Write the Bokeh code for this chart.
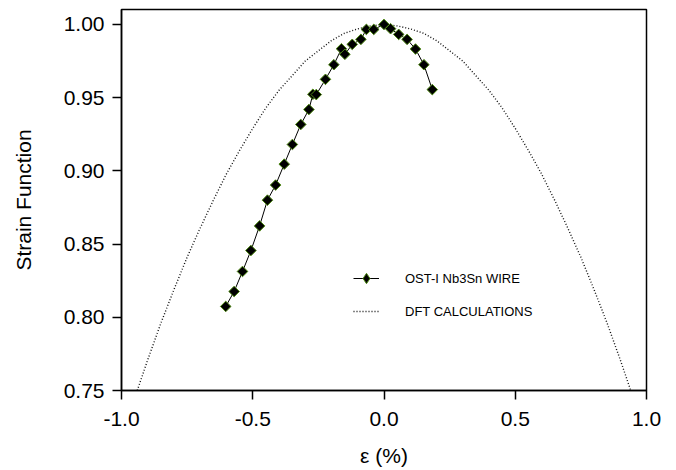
from bokeh.plotting import figure
from bokeh.models import Range1d, FixedTicker, NumeralTickFormatter, Legend, LegendItem
from bokeh.embed import file_html
from bokeh.resources import INLINE
import math

# Experimental data (OST-I Nb3Sn wire)
strain_exp = [-0.603, -0.571, -0.539, -0.507, -0.474, -0.444, -0.413, -0.380, -0.349,
              -0.317, -0.286, -0.271, -0.258, -0.223, -0.191, -0.162, -0.149, -0.121,
              -0.088, -0.067, -0.039, 0.000, 0.025, 0.056, 0.088, 0.120, 0.152, 0.184]
sf_exp = [0.8074, 0.8176, 0.8313, 0.8456, 0.8624, 0.8800, 0.8903, 0.9046, 0.9180,
          0.9317, 0.9419, 0.9523, 0.9521, 0.9625, 0.9725, 0.9834, 0.9796, 0.9864,
          0.9898, 0.9966, 0.9966, 1.0000, 0.9971, 0.9932, 0.9898, 0.9832, 0.9725, 0.9555]

# DFT calculations
strain_dft = [-0.94, -0.90, -0.85, -0.80, -0.75, -0.70, -0.65, -0.60, -0.55, -0.50,
              -0.45, -0.40, -0.35, -0.30, -0.25, -0.20, -0.15, -0.10, -0.05, 0.00,
              0.05, 0.10, 0.15, 0.20, 0.25, 0.30, 0.35, 0.40, 0.45, 0.50,
              0.55, 0.60, 0.65, 0.70, 0.75, 0.80, 0.85, 0.90, 0.94]
sf_dft = [0.750, 0.771, 0.796, 0.819, 0.841, 0.861, 0.880, 0.898, 0.914, 0.929,
          0.943, 0.955, 0.965, 0.975, 0.982, 0.989, 0.994, 0.997, 0.999, 1.000,
          0.999, 0.997, 0.994, 0.989, 0.982, 0.975, 0.965, 0.955, 0.943, 0.929,
          0.914, 0.898, 0.880, 0.861, 0.841, 0.819, 0.796, 0.771, 0.750]

x_ticks = [-1.0, -0.5, 0.0, 0.5, 1.0]
y_ticks = [0.75, 0.80, 0.85, 0.90, 0.95, 1.00]

FONT = "Liberation Sans"
EDGE = "#4f8a14"

p = figure(width=668, height=469, output_backend="svg", toolbar_location=None,
           x_range=Range1d(-1.0, 1.0), y_range=Range1d(0.75, 1.0102),
           min_border_left=121, min_border_right=22, min_border_top=9, min_border_bottom=70)

p.xgrid.visible = False
p.ygrid.visible = False
p.outline_line_color = "black"
p.outline_line_width = 1.5
p.background_fill_color = "white"
p.border_fill_color = "white"

for ax in (p.xaxis[0], p.yaxis[0]):
    ax.axis_line_color = "black"
    ax.axis_line_width = 1.5
    ax.major_tick_line_color = "black"
    ax.major_tick_line_width = 1.5
    ax.major_tick_out = 9
    ax.major_tick_in = 0
    ax.minor_tick_line_color = None
    ax.major_label_text_font = FONT
    ax.major_label_text_font_size = "21px"
    ax.major_label_text_color = "black"
    ax.axis_label_text_font = FONT
    ax.axis_label_text_font_size = "21px"
    ax.axis_label_text_font_style = "normal"
    ax.axis_label_text_color = "black"

p.xaxis.ticker = FixedTicker(ticks=x_ticks)
p.yaxis.ticker = FixedTicker(ticks=y_ticks)
p.xaxis.formatter = NumeralTickFormatter(format="0.0")
p.yaxis.formatter = NumeralTickFormatter(format="0.00")
p.xaxis.axis_label = "ε (%)"
p.yaxis.axis_label = "Strain Function"
p.xaxis.major_label_standoff = 12
p.yaxis.major_label_standoff = 8
p.xaxis.axis_label_standoff = 15
p.yaxis.axis_label_standoff = 26

dft = p.line(strain_dft, sf_dft, line_color="#111111", line_width=1.4, line_dash="1 2")
exp_line = p.line(strain_exp, sf_exp, line_color="black", line_width=1)
# diamond used for the legend entry (the legend draws markers unrotated);
# on the plot it sits hidden under the first data marker
legend_pt = p.scatter(strain_exp[:1], sf_exp[:1], marker="diamond", size=9,
                      fill_color="black", line_color=EDGE, line_width=1)
exp_pts = p.scatter(strain_exp, sf_exp, marker="square", size=7.5, angle=math.pi / 4,
                    fill_color="black", line_color=EDGE, line_width=1)

legend = Legend(items=[LegendItem(label="OST-I Nb3Sn WIRE", renderers=[exp_line, legend_pt]),
                       LegendItem(label="DFT CALCULATIONS", renderers=[dft])],
                location=(232, 65), orientation="vertical")
legend.background_fill_alpha = 0
legend.border_line_color = None
legend.padding = 0
legend.margin = 0
legend.spacing = 5
legend.glyph_width = 26
legend.glyph_height = 28
legend.label_height = 28
legend.label_standoff = 26
legend.label_text_font = FONT
legend.label_text_font_size = "13px"
legend.label_text_color = "black"
p.add_layout(legend, "center")

open("out.html", "w").write(file_html(p, INLINE))
